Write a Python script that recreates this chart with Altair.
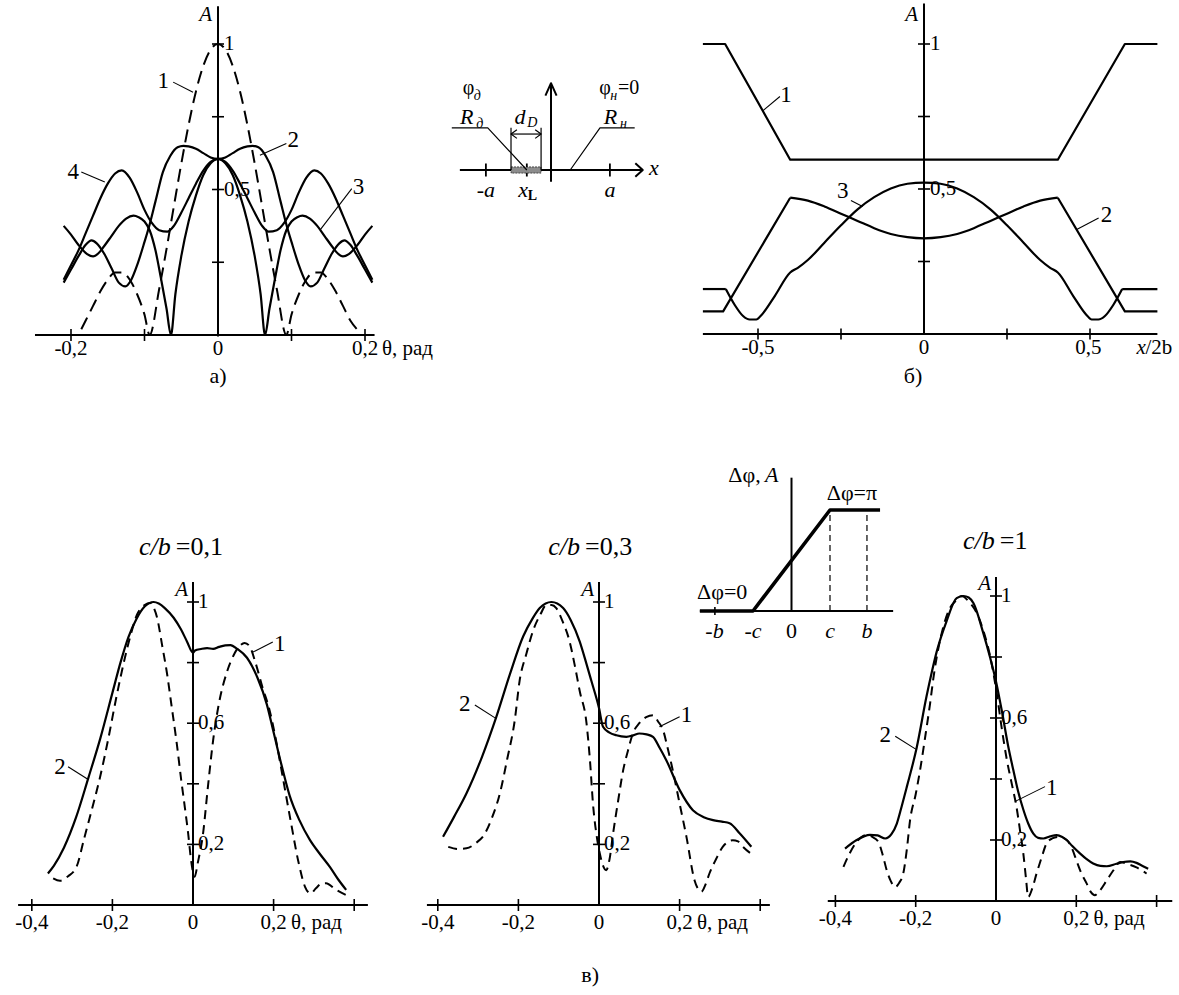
import altair as alt
import pandas as pd

FONT = "Liberation Serif, Times New Roman, DejaVu Serif, serif"
INK = "black"

# ============ panel a) : A(theta) ============
A1_T = [-0.186,-0.18,-0.17,-0.16,-0.15,-0.14,-0.13,-0.12,-0.11,-0.10,-0.093,-0.08,-0.07,-0.06,-0.05,-0.04,-0.03,-0.02,-0.01,0.0,
        0.01,0.02,0.03,0.04,0.05,0.06,0.07,0.08,0.093,0.10,0.11,0.12,0.13,0.14,0.15,0.16,0.17,0.18,0.189]
A1_V = [0.02,0.05,0.10,0.15,0.19,0.215,0.215,0.19,0.14,0.07,0.0,0.158,0.296,0.443,0.588,0.722,0.837,0.925,0.981,1.0,
        0.981,0.925,0.837,0.722,0.588,0.443,0.296,0.158,0.0,0.07,0.14,0.19,0.215,0.215,0.19,0.15,0.10,0.05,0.02]

A2_T = [-0.21,-0.20,-0.19,-0.18,-0.172,-0.165,-0.155,-0.145,-0.135,-0.126,-0.118,-0.11,-0.10,-0.093,-0.085,-0.075,-0.065,-0.055,-0.047,-0.04,-0.03,-0.02,-0.01,0.0,
        0.01,0.02,0.03,0.04,0.047,0.055,0.065,0.075,0.085,0.093,0.10,0.11,0.118,0.126,0.135,0.145,0.155,0.165,0.172,0.18,0.19,0.20,0.21]
A2_V = [0.18,0.225,0.27,0.31,0.325,0.315,0.28,0.23,0.18,0.167,0.19,0.24,0.32,0.38,0.46,0.56,0.615,0.645,0.65,0.648,0.64,0.625,0.61,0.605,
        0.61,0.625,0.64,0.648,0.65,0.645,0.615,0.56,0.46,0.38,0.32,0.24,0.19,0.167,0.18,0.23,0.28,0.315,0.325,0.31,0.27,0.225,0.18]

A3_T = [-0.21,-0.20,-0.19,-0.178,-0.17,-0.163,-0.155,-0.145,-0.135,-0.125,-0.115,-0.108,-0.10,-0.093,-0.085,-0.078,-0.07,-0.064,-0.058,-0.05,-0.04,-0.03,-0.02,-0.01,0.0,
        0.01,0.02,0.03,0.04,0.05,0.058,0.064,0.07,0.078,0.085,0.093,0.10,0.108,0.115,0.125,0.135,0.145,0.155,0.163,0.17,0.178,0.19,0.20,0.21]
A3_V = [0.375,0.345,0.31,0.278,0.27,0.28,0.305,0.34,0.375,0.40,0.41,0.405,0.39,0.36,0.29,0.20,0.09,0.0,0.14,0.27,0.39,0.48,0.55,0.59,0.605,
        0.59,0.55,0.48,0.39,0.27,0.14,0.0,0.09,0.20,0.29,0.36,0.39,0.405,0.41,0.40,0.375,0.34,0.305,0.28,0.27,0.278,0.31,0.345,0.375]

A4_T = [-0.21,-0.20,-0.19,-0.18,-0.17,-0.16,-0.15,-0.14,-0.131,-0.12,-0.11,-0.10,-0.09,-0.08,-0.069,-0.06,-0.05,-0.04,-0.03,-0.02,-0.01,0.0,
        0.01,0.02,0.03,0.04,0.05,0.06,0.069,0.08,0.09,0.10,0.11,0.12,0.131,0.14,0.15,0.16,0.17,0.18,0.19,0.20,0.21]
A4_V = [0.19,0.24,0.29,0.35,0.41,0.47,0.52,0.555,0.566,0.54,0.49,0.43,0.385,0.36,0.355,0.375,0.42,0.47,0.52,0.565,0.595,0.605,
        0.595,0.565,0.52,0.47,0.42,0.375,0.355,0.36,0.385,0.43,0.49,0.54,0.566,0.555,0.52,0.47,0.41,0.35,0.29,0.24,0.19]

A_XTICKS = [-0.2, -0.1, 0.1, 0.2]
A_YTICKS = [0.25, 0.5, 0.75, 1.0]
A_XLABELS = [(-0.2, "-0,2"), (0.0, "0"), (0.2, "0,2")]
A_YLABELS = [(1.0, "1"), (0.5, "0,5")]
A_CURVE_LABELS = [(-0.0744, 0.874, "1"), (0.1025, 0.669, "2"), (0.191, 0.509, "3"), (-0.197, 0.56, "4")]
A_LEADERS = [([-0.061, -0.034], [0.869, 0.834]), ([0.093, 0.057], [0.658, 0.618]),
             ([0.182, 0.139], [0.503, 0.361]), ([-0.186, -0.154], [0.56, 0.526])]

# ============ panel б) : A(x/2b) ============
B1_X = [-0.666, -0.599, -0.403, 0.403, 0.605, 0.703]
B1_V = [1.0, 1.0, 0.601, 0.601, 1.0, 1.0]
B2_LX = [-0.666, -0.605, -0.403]; B2_LV = [0.078, 0.078, 0.47]
B2_RX = [0.403, 0.605, 0.703];   B2_RV = [0.47, 0.078, 0.078]
B2_MX = [-0.403,-0.35,-0.30,-0.25,-0.20,-0.15,-0.10,-0.05,0.0,0.05,0.10,0.15,0.20,0.25,0.30,0.35,0.403]
B2_MV = [0.47,0.46,0.44,0.415,0.39,0.365,0.345,0.334,0.33,0.334,0.345,0.365,0.39,0.415,0.44,0.46,0.47]
B3_LX = [-0.666, -0.597]; B3_LV = [0.155, 0.155]
B3_RX = [0.597, 0.703];   B3_RV = [0.155, 0.155]
B3_MX = [-0.597,-0.57,-0.545,-0.525,-0.505,-0.49,-0.45,-0.403,-0.38,-0.35,-0.30,-0.25,-0.20,-0.15,-0.10,-0.05,0.0,
         0.05,0.10,0.15,0.20,0.25,0.30,0.35,0.38,0.403,0.45,0.49,0.505,0.525,0.545,0.57,0.597]
B3_MV = [0.155,0.10,0.062,0.05,0.05,0.065,0.13,0.212,0.228,0.255,0.315,0.375,0.43,0.472,0.502,0.518,0.522,
         0.518,0.502,0.472,0.43,0.375,0.315,0.255,0.228,0.212,0.13,0.065,0.05,0.05,0.062,0.10,0.155]
B_XTICKS = [-0.5, -0.25, 0.25, 0.5]
B_YTICKS = [0.25, 0.5, 0.75, 1.0]
B_XLABELS = [(-0.5, "-0,5"), (0.0, "0"), (0.495, "0,5")]
B_YLABELS = [(1.0, "1"), (0.5, "0,5")]
B_CURVE_LABELS = [(-0.416, 0.825, "1"), (0.55, 0.412, "2"), (-0.2445, 0.493, "3")]
B_LEADERS = [([-0.485, -0.434], [0.77, 0.819]), ([0.526, 0.46], [0.40, 0.36]), ([-0.22, -0.185], [0.46, 0.44])]

# ============ panels в) : A(theta) for c/b = 0,1 ; 0,3 ; 1 ============
C1_ST = [-0.36,-0.345,-0.32,-0.29,-0.26,-0.23,-0.20,-0.18,-0.16,-0.14,-0.12,-0.0975,-0.085,-0.07,-0.048,-0.03,-0.015,0.0,0.005,0.02,
         0.035,0.05,0.065,0.08,0.093,0.11,0.134,0.16,0.183,0.20,0.22,0.24,0.264,0.29,0.314,0.34,0.36,0.38]
C1_SV = [0.104,0.13,0.19,0.29,0.418,0.55,0.70,0.80,0.885,0.945,0.985,1.0,0.995,0.98,0.948,0.91,0.87,0.833,0.84,0.845,
         0.848,0.845,0.852,0.857,0.858,0.845,0.816,0.75,0.663,0.57,0.46,0.36,0.28,0.215,0.17,0.125,0.085,0.05]
C1_DT = [-0.347,-0.33,-0.31,-0.289,-0.27,-0.25,-0.231,-0.21,-0.19,-0.17,-0.155,-0.139,-0.12,-0.106,-0.097,-0.089,-0.077,-0.064,-0.054,-0.04,
         -0.029,-0.02,-0.012,-0.005,0.004,0.012,0.025,0.037,0.05,0.065,0.083,0.103,0.118,0.128,0.14,0.155,0.172,0.19,0.208,0.223,
         0.242,0.262,0.278,0.292,0.305,0.318,0.33,0.355,0.39]
C1_DV = [0.088,0.08,0.095,0.126,0.22,0.32,0.42,0.55,0.687,0.81,0.89,0.958,0.99,0.997,0.98,0.948,0.86,0.76,0.665,0.53,
         0.41,0.32,0.236,0.15,0.093,0.14,0.236,0.39,0.544,0.67,0.764,0.83,0.858,0.865,0.855,0.8,0.72,0.643,0.53,0.42,
         0.28,0.14,0.06,0.038,0.055,0.07,0.072,0.05,0.027]

C2_ST = [-0.387,-0.36,-0.329,-0.29,-0.255,-0.221,-0.188,-0.165,-0.147,-0.118,-0.089,-0.07,-0.048,-0.032,-0.019,0.0,0.01,0.025,0.043,0.068,
         0.085,0.1,0.118,0.134,0.15,0.167,0.2,0.233,0.26,0.283,0.305,0.324,0.35,0.378]
C2_SV = [0.225,0.29,0.368,0.49,0.62,0.762,0.887,0.945,0.98,1.0,0.98,0.94,0.87,0.80,0.74,0.65,0.588,0.57,0.56,0.555,
         0.56,0.566,0.563,0.555,0.52,0.478,0.38,0.313,0.29,0.28,0.275,0.27,0.235,0.192]
C2_DT = [-0.374,-0.35,-0.329,-0.305,-0.283,-0.265,-0.246,-0.228,-0.209,-0.197,-0.18,-0.164,-0.145,-0.131,-0.118,-0.106,-0.09,-0.073,-0.06,-0.048,
         -0.031,-0.022,-0.015,-0.006,0.002,0.01,0.018,0.026,0.035,0.047,0.06,0.072,0.084,0.1,0.117,0.134,0.147,0.159,0.17,0.183,
         0.2,0.217,0.237,0.254,0.265,0.274,0.29,0.307,0.332,0.345,0.357,0.382]
C2_DV = [0.192,0.185,0.187,0.205,0.236,0.29,0.368,0.48,0.61,0.74,0.83,0.904,0.96,0.99,0.99,0.98,0.935,0.87,0.79,0.707,
         0.6,0.47,0.335,0.23,0.17,0.13,0.115,0.15,0.236,0.34,0.445,0.51,0.566,0.60,0.62,0.626,0.605,0.577,0.52,0.445,
         0.335,0.225,0.082,0.044,0.07,0.104,0.15,0.192,0.214,0.21,0.192,0.165]

C3_ST = [-0.376,-0.347,-0.314,-0.295,-0.276,-0.26,-0.247,-0.235,-0.222,-0.198,-0.173,-0.16,-0.148,-0.123,-0.098,-0.081,-0.068,-0.056,-0.032,-0.015,
         0.0,0.015,0.03,0.043,0.055,0.068,0.08,0.093,0.105,0.118,0.135,0.151,0.165,0.176,0.19,0.209,0.225,0.242,0.26,0.276,
         0.3,0.317,0.335,0.35,0.365,0.379]
C3_SV = [0.172,0.2,0.217,0.215,0.205,0.22,0.254,0.31,0.375,0.5,0.671,0.75,0.816,0.918,0.993,1.0,0.995,0.976,0.88,0.80,
         0.72,0.62,0.51,0.43,0.36,0.30,0.255,0.221,0.207,0.205,0.212,0.216,0.21,0.2,0.18,0.156,0.138,0.123,0.115,0.114,
         0.122,0.128,0.13,0.125,0.115,0.106]
C3_DT = [-0.38,-0.365,-0.347,-0.335,-0.322,-0.308,-0.293,-0.282,-0.272,-0.262,-0.251,-0.241,-0.231,-0.222,-0.214,-0.2,-0.189,-0.175,-0.164,-0.156,
         -0.131,-0.115,-0.098,-0.085,-0.07,-0.048,-0.03,-0.015,0.002,0.015,0.027,0.04,0.051,0.06,0.068,0.075,0.08,0.09,0.101,0.113,
         0.126,0.14,0.155,0.176,0.19,0.2,0.213,0.226,0.236,0.246,0.256,0.276,0.292,0.309,0.33,0.35,0.375]
C3_DV = [0.112,0.155,0.194,0.21,0.216,0.21,0.194,0.15,0.1,0.065,0.046,0.06,0.09,0.17,0.265,0.35,0.43,0.55,0.649,0.73,
         0.9,0.96,0.987,1.0,0.985,0.944,0.88,0.805,0.68,0.56,0.463,0.38,0.309,0.23,0.156,0.07,0.013,0.04,0.09,0.14,
         0.189,0.205,0.21,0.2,0.17,0.134,0.09,0.057,0.03,0.019,0.03,0.068,0.1,0.128,0.12,0.11,0.09]

C_XTICKS = [-0.4, -0.2, 0.2, 0.4]
C_YTICKS = [0.2, 0.4, 0.6, 0.8, 1.0]
C_XLABELS = [(-0.4, "-0,4"), (-0.2, "-0,2"), (0.0, "0"), (0.2, "0,2")]
C_YLABELS = [(1.0, "1"), (0.6, "0,6"), (0.2, "0,2")]
C_TITLES = ["=0,1", "=0,3", "=1"]
C_TITLE_SPLIT = [-0.055, -0.047, -0.003]
C_XAXIS = [(-0.434, 0.434), (-0.427, 0.424), (-0.419, 0.439)]
C_YTOP = [1.066, 1.066, 1.062]
C_LABELS = [
    [(0.215, 0.863, "1"), (-0.33, 0.456, "2")],
    [(0.217, 0.626, "1"), (-0.333, 0.665, "2")],
    [(0.139, 0.37, "1"), (-0.276, 0.545, "2")],
]
C_LEADERS = [
    [([0.149, 0.198], [0.835, 0.868]), ([-0.31, -0.26], [0.456, 0.414])],
    [([0.15, 0.2], [0.588, 0.621]), ([-0.308, -0.255], [0.66, 0.615])],
    [([0.047, 0.122], [0.326, 0.375]), ([-0.251, -0.2], [0.54, 0.498])],
]

# ============ top schematic (aperture) ============
TI_AXIS = ([-1.47, 1.48], [0, 0])
TI_AXIS_HEAD = ([1.36, 1.48, 1.36], [0.11, 0, -0.11])
TI_VERT = ([0, 0], [-0.19, 1.40])
TI_VERT_HEAD = ([-0.09, 0, 0.09], [1.20, 1.40, 1.20])
TI_TICKS = [-1.05, -0.39, 0.95]
TI_BAND = (-0.645, -0.16)
TI_DIM_LEFT = ([-0.645, -0.645], [0, 0.68])
TI_DIM_RIGHT = ([-0.16, -0.16], [0, 0.68])
TI_DIM_LINE = ([-0.645, -0.16], [0.58, 0.58])
TI_DIM_HEAD_L = ([-0.55, -0.645, -0.55], [0.65, 0.58, 0.51])
TI_DIM_HEAD_R = ([-0.255, -0.16, -0.255], [0.65, 0.58, 0.51])
TI_RD_LEADER = ([-1.6, -1.02, -0.39], [0.68, 0.68, 0])
TI_RN_LEADER = ([1.35, 0.79, 0.31], [0.68, 0.68, 0])

# ============ bottom schematic (phase profile) ============
BI_HAXIS = ([-2.38, 2.64], [0, 0])
BI_VAXIS = ([0, 0], [-0.01, 1.32])
BI_PROFILE = ([-2.38, -1.0, 1.0, 2.3], [0, 0, 1, 1])
BI_DASH = [1.0, 1.96]
BI_TICKS = [-1.99]
BI_XLABELS_IT = [(-2.0, "-b"), (-1.0, "-c"), (1.0, "c"), (1.96, "b")]

# ---------------- scales (one per panel) ----------------
def sc(dom, rng):
    return alt.Scale(domain=dom, range=rng, nice=False, zero=False)

PANELS = {
    "a": (sc([-0.25, 0.25], [34.25, 401.75]), sc([0, 1.2], [335, -14.2])),
    "b": (sc([-0.7, 0.75], [691.6, 1173.0]), sc([0, 1.2], [334, -14.0])),
    "ti": (sc([-2, 2], [427, 675]), sc([-1, 2], [232, 46])),
    "c1": (sc([-0.5, 0.5], [-8.5, 394.5]), sc([0, 1.2], [905, 541.4])),
    "c2": (sc([-0.5, 0.5], [397.5, 800.5]), sc([0, 1.2], [905, 541.4])),
    "c3": (sc([-0.5, 0.5], [795.25, 1196.75]), sc([0, 1.2], [901, 535.0])),
    "bi": (sc([-3, 3], [676, 907]), sc([-0.5, 1.5], [661.5, 459.5])),
}

def enc(p):
    sx, sy = PANELS[p]
    return dict(x=alt.X("x:Q", scale=sx, axis=None), y=alt.Y("y:Q", scale=sy, axis=None))

def lines(p, segs, width=2.2, dash=None, interp="linear"):
    rows = []
    for g, (xv, yv) in enumerate(segs):
        assert len(xv) == len(yv), (p, g, len(xv), len(yv))
        for i, (x, y) in enumerate(zip(xv, yv)):
            rows.append({"g": g, "i": i, "x": x, "y": y})
    kw = dict(color=INK, strokeWidth=width, interpolate=interp, strokeCap="butt", strokeJoin="round")
    if dash:
        kw["strokeDash"] = dash
    return alt.Chart(pd.DataFrame(rows)).mark_line(**kw).encode(
        detail="g:N", order="i:Q", **enc(p))

def texts(p, items, size=21, style="normal", weight="normal", align="center",
          baseline="middle", dx=0, dy=0):
    df = pd.DataFrame(items, columns=["x", "y", "t"])
    return alt.Chart(df).mark_text(font=FONT, fontSize=size, fontStyle=style, fontWeight=weight,
                                   align=align, baseline=baseline, dx=dx, dy=dy, color=INK).encode(
        text="t:N", **enc(p))

def ticks(p, xv, yv, orient, size=12, thick=1.6):
    df = pd.DataFrame({"x": xv, "y": yv})
    return alt.Chart(df).mark_tick(orient=orient, size=size, thickness=thick, color=INK, opacity=1).encode(**enc(p))

layers = []

# ---- panel a ----
layers += [
    lines("a", [([-0.249, 0.213], [0, 0]), ([0, 0], [-0.005, 1.13])], width=2.0),
    ticks("a", A_XTICKS, [0] * len(A_XTICKS), "vertical"),
    ticks("a", [0] * len(A_YTICKS), A_YTICKS, "horizontal"),
    lines("a", [(A1_T, A1_V)], width=2.0, dash=[13, 7], interp="monotone"),
    lines("a", [(A2_T, A2_V), (A3_T, A3_V), (A4_T, A4_V)], width=2.2, interp="monotone"),
    lines("a", A_LEADERS, width=1.1),
    texts("a", [(x, 0, t) for x, t in A_XLABELS], baseline="top", dy=3),
    texts("a", [(0.223, 0, "θ, рад")], align="left", baseline="top", dy=3),
    texts("a", [(0, y, t) for y, t in A_YLABELS], align="left", dx=6),
    texts("a", [(0, 1.10, "A")], style="italic", align="right", dx=-6),
    texts("a", A_CURVE_LABELS, size=23),
    texts("a", [(0, -0.141, "а)")], size=22),
]

# ---- panel b ----
layers += [
    lines("b", [([-0.666, 0.703], [0, 0]), ([0, 0], [0, 1.14])], width=2.0),
    ticks("b", B_XTICKS, [0] * len(B_XTICKS), "vertical", size=11),
    ticks("b", [0] * len(B_YTICKS), B_YTICKS, "horizontal"),
    lines("b", [(B1_X, B1_V), (B2_LX, B2_LV), (B2_RX, B2_RV), (B3_LX, B3_LV), (B3_RX, B3_RV)], width=2.2),
    lines("b", [(B2_MX, B2_MV), (B3_MX, B3_MV)], width=2.2, interp="monotone"),
    lines("b", B_LEADERS, width=1.1),
    texts("b", [(x, 0, t) for x, t in B_XLABELS], baseline="top", dy=3),
    texts("b", [(0.64, 0, "x")], style="italic", align="left", baseline="top", dy=3),
    texts("b", [(0.64, 0, "/2b")], align="left", baseline="top", dy=3, dx=9),
    texts("b", [(0, y, t) for y, t in B_YLABELS], align="left", dx=6),
    texts("b", [(0, 1.10, "A")], style="italic", align="right", dx=-6),
    texts("b", B_CURVE_LABELS, size=23),
    texts("b", [(-0.033, -0.145, "б)")], size=22),
]

# ---- top schematic ----
layers += [
    lines("ti", [TI_AXIS, TI_AXIS_HEAD, TI_VERT, TI_VERT_HEAD], width=2.0),
    ticks("ti", TI_TICKS, [0] * len(TI_TICKS), "vertical", size=13, thick=1.8),
    alt.Chart(pd.DataFrame({"x": [TI_BAND[0]], "x2": [TI_BAND[1]], "y": [-0.05], "y2": [0.05]})).mark_rect(
        fill="#8c8c8c", stroke=INK, strokeWidth=0.6, strokeDash=[2, 1]).encode(
        x2="x2:Q", y2="y2:Q", **enc("ti")),
    lines("ti", [TI_DIM_LEFT, TI_DIM_RIGHT, TI_DIM_LINE, TI_DIM_HEAD_L, TI_DIM_HEAD_R,
                 TI_RD_LEADER, TI_RN_LEADER], width=1.2),
    texts("ti", [(-1.33, 1.32, "φ"), (0.87, 1.32, "φ")], size=20),
    texts("ti", [(-1.19, 1.2, "д"), (1.01, 1.2, "н")], size=14, style="italic"),
    texts("ti", [(1.08, 1.32, "=0")], size=20, align="left"),
    texts("ti", [(-1.36, 0.86, "R"), (0.96, 0.86, "R"), (-0.5, 0.86, "d")], size=22, style="italic"),
    texts("ti", [(-1.15, 0.74, "д"), (1.17, 0.74, "н"), (-0.3, 0.76, "D")], size=14, style="italic"),
    texts("ti", [(-1.05, -0.33, "-a"), (0.95, -0.33, "a"), (-0.45, -0.33, "x"), (1.66, 0.03, "x")],
          size=22, style="italic"),
    texts("ti", [(-0.3, -0.42, "L")], size=14, weight="bold"),
]

# ---- bottom panels ----
C_SERIES = [((C1_ST, C1_SV), (C1_DT, C1_DV)), ((C2_ST, C2_SV), (C2_DT, C2_DV)), ((C3_ST, C3_SV), (C3_DT, C3_DV))]
for k, p in enumerate(["c1", "c2", "c3"]):
    (solid, dashed) = C_SERIES[k]
    x0, x1 = C_XAXIS[k]
    layers += [
        lines(p, [([x0, x1], [0, 0]), ([0, 0], [0, C_YTOP[k]])], width=2.0),
        ticks(p, C_XTICKS, [0] * len(C_XTICKS), "vertical"),
        ticks(p, [0] * len(C_YTICKS), C_YTICKS, "horizontal"),
        lines(p, [dashed], width=2.0, dash=[9, 6], interp="monotone"),
        lines(p, [solid], width=2.2, interp="monotone"),
        lines(p, C_LEADERS[k], width=1.1),
        texts(p, [(x, 0, t) for x, t in C_XLABELS], baseline="top", dy=7),
        texts(p, [(0.243, 0, "θ, рад")], align="left", baseline="top", dy=7),
        texts(p, [(0, y, t) for y, t in C_YLABELS], align="left", dx=5),
        texts(p, [(0, 1.04, "A")], style="italic", align="right", dx=-5),
        texts(p, C_LABELS[k], size=23),
        texts(p, [(C_TITLE_SPLIT[k], 1.18, "c/b")], size=26, style="italic", align="right"),
        texts(p, [(C_TITLE_SPLIT[k], 1.18, C_TITLES[k])], size=26, align="left", dx=5),
    ]
layers.append(texts("c2", [(-0.022, -0.231, "в)")], size=22))

# ---- bottom schematic ----
layers += [
    lines("bi", [BI_HAXIS, BI_VAXIS], width=2.0),
    lines("bi", [BI_PROFILE], width=3.6),
    lines("bi", [([u, u], [0, 1]) for u in BI_DASH], width=1.2, dash=[6, 4]),
    ticks("bi", BI_TICKS, [0], "vertical", size=8, thick=1.6),
    texts("bi", [(u, -0.2, t) for u, t in BI_XLABELS_IT], size=22, style="italic"),
    texts("bi", [(0, -0.2, "0")], size=22),
    texts("bi", [(-0.8, 1.35, "Δφ,")], size=22, align="right"),
    texts("bi", [(-0.69, 1.35, "A")], size=22, style="italic", align="left"),
    texts("bi", [(-1.8, 0.19, "Δφ=0"), (1.57, 1.17, "Δφ=π")], size=22),
]

chart = alt.layer(*layers).resolve_scale(x="independent", y="independent").properties(
    width=1179, height=995, padding=0, background="white",
    autosize=alt.AutoSizeParams(type="none"),
).configure_view(stroke=None)

chart.save("out.html", embed_options={"renderer": "svg", "actions": False})
